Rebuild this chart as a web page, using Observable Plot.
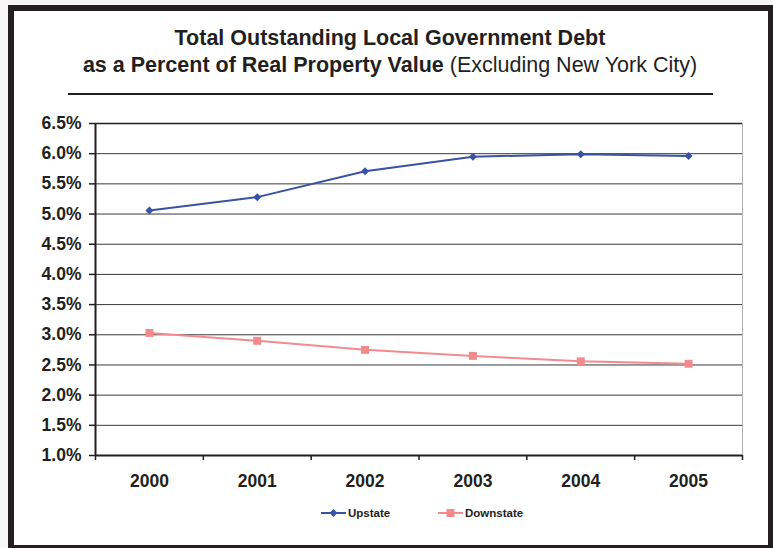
<!DOCTYPE html>
<html>
<head>
<meta charset="utf-8">
<script src="https://cdn.jsdelivr.net/npm/d3@7"></script>
<script src="https://cdn.jsdelivr.net/npm/@observablehq/plot@0.6"></script>
<style>
  html, body { margin: 0; padding: 0; background: #f6f6f6; overflow: hidden; }
  #page { position: relative; width: 773px; height: 548px; overflow: hidden; font-family: "Liberation Sans", Arial, sans-serif; color: #231f20; }
  #frame { position: absolute; left: 8px; top: 5px; width: 766px; height: 546px; box-sizing: border-box; border: 6px solid #231f20; background: #fff; }
  #chart { position: absolute; left: 0; top: 0; }
  .title { position: absolute; left: 0; width: 780px; text-align: center; font-size: 21.5px; line-height: 26px; white-space: nowrap; }
  #rule { position: absolute; left: 68px; width: 645px; top: 93px; height: 2px; background: #231f20; }
  .leg { position: absolute; top: 505px; height: 16px; display: flex; align-items: center; font-size: 11.5px; font-weight: bold; white-space: nowrap; }
  .leg svg { display: block; margin-right: 2px; }
</style>
</head>
<body>
<div id="page">
  <div id="frame"></div>
  <div id="chart"></div>
  <div class="title" style="top:25px;font-weight:bold;">Total Outstanding Local Government Debt</div>
  <div class="title" style="top:51.5px;"><b>as a Percent of Real Property Value</b> (Excluding New York City)</div>
  <div id="rule"></div>
  <div id="legend"></div>
</div>
<script>
// ---- data ----
const years = [2000, 2001, 2002, 2003, 2004, 2005];
const upstate = [5.06, 5.28, 5.71, 5.95, 5.99, 5.96];
const downstate = [3.03, 2.90, 2.75, 2.65, 2.56, 2.52];
const seriesNames = ["Upstate", "Downstate"];
const seriesColors = ["#3953a4", "#f38b8d"];
const yTicks = [1.0, 1.5, 2.0, 2.5, 3.0, 3.5, 4.0, 4.5, 5.0, 5.5, 6.0, 6.5];

const upRows = years.map((yr, i) => ({year: yr, value: upstate[i], series: seriesNames[0]}));
const downRows = years.map((yr, i) => ({year: yr, value: downstate[i], series: seriesNames[1]}));
const xLo = years[0] - 0.5, xHi = years[years.length - 1] + 0.5;
const boundaries = [...years.map(y => y - 0.5), xHi];
const yLo = yTicks[0], yHi = yTicks[yTicks.length - 1];

const ink = "#231f20";
const rUp = 3.6, rDown = 4.5;

const chart = Plot.plot({
  width: 773,
  height: 548,
  marginLeft: 95,
  marginRight: 31,
  marginTop: 123,
  marginBottom: 93,
  style: {background: "transparent", fontFamily: "'Liberation Sans', Arial, sans-serif", color: ink, overflow: "visible"},
  x: {domain: [xLo, xHi]},
  y: {domain: [yLo, yHi]},
  marks: [
    Plot.ruleY(yTicks, {stroke: "#3a3a3a", strokeWidth: 1}),
    Plot.ruleY([yHi], {stroke: ink, strokeWidth: 1.3}),
    Plot.ruleX([xHi], {y1: yLo, y2: yHi, stroke: "#b0b0b0", strokeWidth: 1}),
    Plot.axisY({ticks: yTicks, tickSize: 6, tickPadding: 8, tickFormat: d => d.toFixed(1) + "%",
      fontSize: 17.5, fontWeight: "bold", fill: ink, stroke: ink, strokeWidth: 1.5, label: null}),
    Plot.axisX({ticks: boundaries, tickSize: 5, tickFormat: () => "", stroke: ink, strokeWidth: 1.5, label: null}),
    Plot.axisX({ticks: years, tickSize: 0, tickPadding: 19, tickFormat: d => String(d),
      fontSize: 17.5, fontWeight: "bold", fill: ink, label: null}),
    Plot.ruleX([xLo], {y1: yLo, y2: yHi, stroke: ink, strokeWidth: 2}),
    Plot.ruleY([yLo], {stroke: ink, strokeWidth: 2}),
    Plot.line(upRows, {x: "year", y: "value", stroke: seriesColors[0], strokeWidth: 2}),
    Plot.line(downRows, {x: "year", y: "value", stroke: seriesColors[1], strokeWidth: 2}),
    Plot.dot(upRows, {x: "year", y: "value", symbol: "diamond2", r: rUp, fill: seriesColors[0], stroke: "none"}),
    Plot.dot(downRows, {x: "year", y: "value", symbol: "square", r: rDown, fill: seriesColors[1], stroke: "none"})
  ]
});
document.getElementById("chart").appendChild(chart);

// ---- legend ----
const legend = document.getElementById("legend");
const legLeft = [321, 438];
const legSymbols = [d3.symbolDiamond2, d3.symbolSquare];
const legSizes = [Math.PI * rUp * rUp, Math.PI * rDown * rDown];
seriesNames.forEach((name, i) => {
  const item = document.createElement("div");
  item.className = "leg";
  item.style.left = legLeft[i] + "px";
  const ns = "http://www.w3.org/2000/svg";
  const svg = document.createElementNS(ns, "svg");
  svg.setAttribute("width", 25); svg.setAttribute("height", 16);
  const ln = document.createElementNS(ns, "line");
  ln.setAttribute("x1", 0); ln.setAttribute("x2", 25); ln.setAttribute("y1", 8); ln.setAttribute("y2", 8);
  ln.setAttribute("stroke", seriesColors[i]); ln.setAttribute("stroke-width", 2);
  svg.appendChild(ln);
  const p = document.createElementNS(ns, "path");
  p.setAttribute("d", d3.symbol(legSymbols[i], legSizes[i])());
  p.setAttribute("transform", "translate(12.5,8)");
  p.setAttribute("fill", seriesColors[i]);
  svg.appendChild(p);
  item.appendChild(svg);
  const t = document.createElement("span");
  t.textContent = name;
  item.appendChild(t);
  legend.appendChild(item);
});
</script>
</body>
</html>
